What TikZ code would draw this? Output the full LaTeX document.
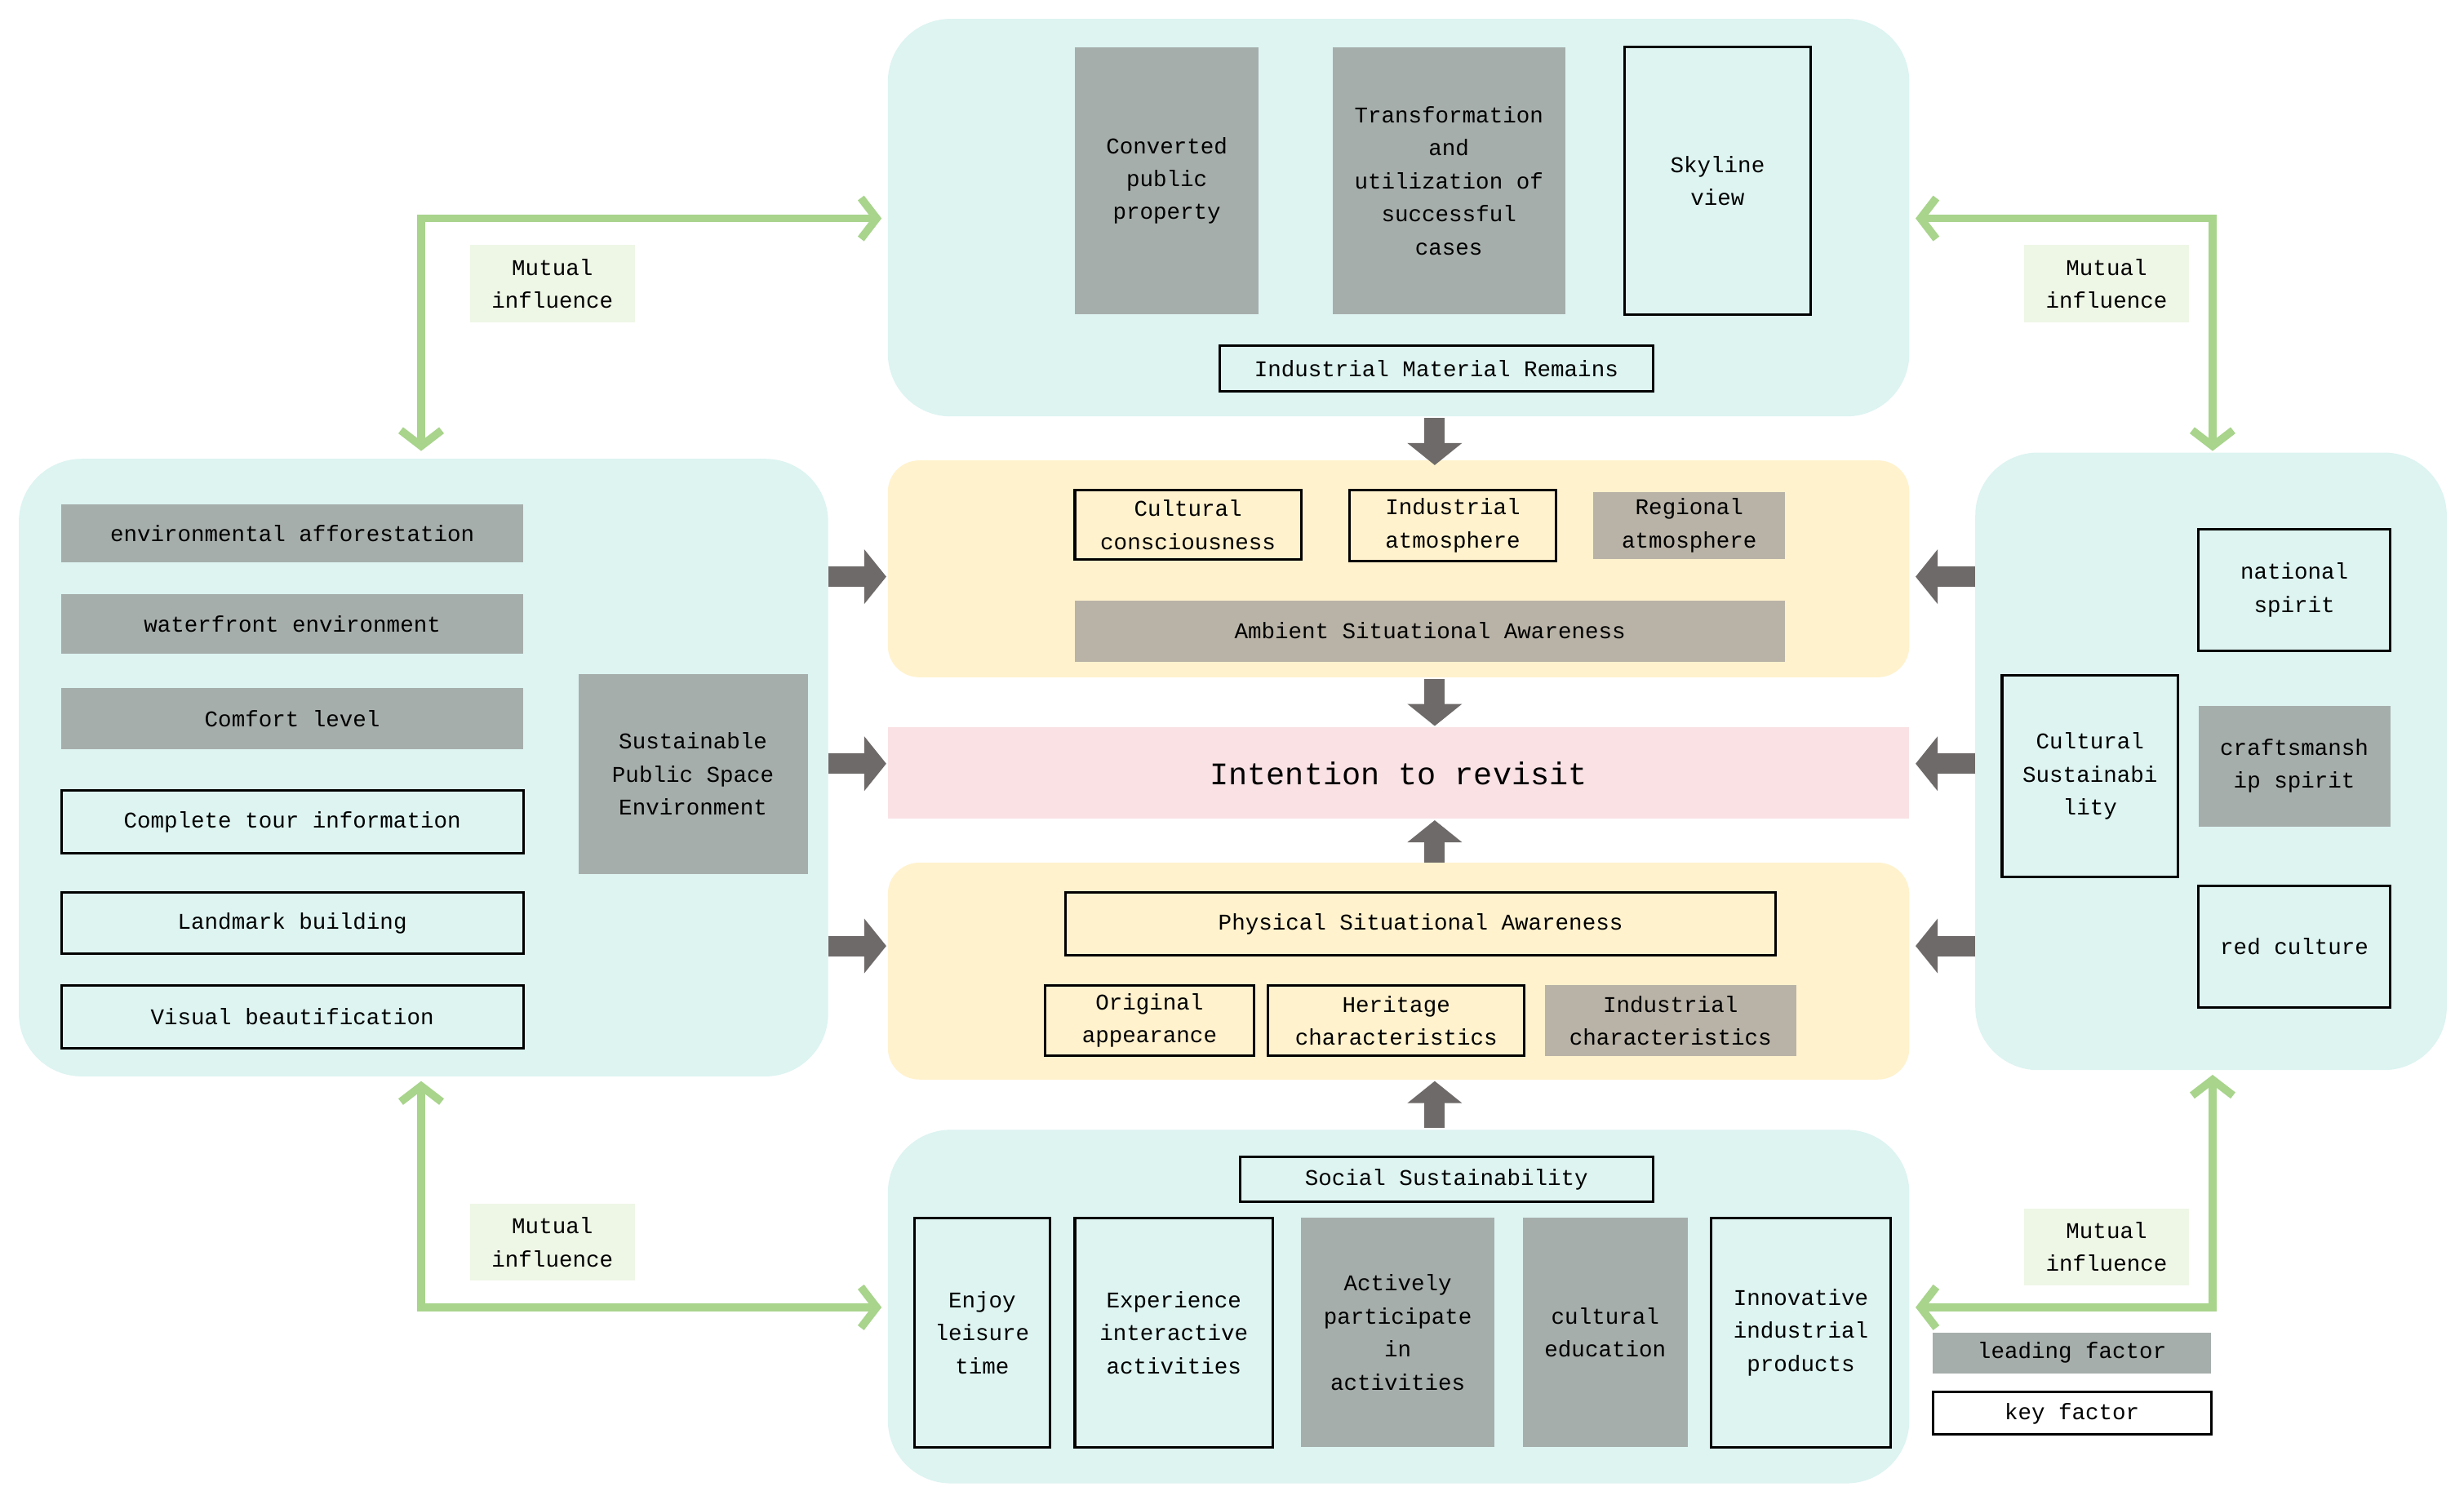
\documentclass[tikz,border=0pt]{standalone}
\usepackage{fontspec}
\setmainfont{Liberation Mono}
\usetikzlibrary{arrows.meta}
\definecolor{cyanbg}{HTML}{DDF4F1}
\definecolor{yelbg}{HTML}{FFF2CD}
\definecolor{pinkbg}{HTML}{F9E1E4}
\definecolor{grayb}{HTML}{A6AEAC}
\definecolor{tanb}{HTML}{B9B3A7}
\definecolor{greenar}{HTML}{A8D48C}
\definecolor{grayar}{HTML}{6E6A69}
\definecolor{mutbg}{HTML}{EEF6E6}
\tikzset{
 panel/.style={rounded corners=40pt},
 keyb/.style={draw=black, line width=1.6pt},
 leadb/.style={fill=grayb},
 tanbox/.style={fill=tanb},
 mutlab/.style={fill=mutbg},
 garrow/.style={draw=greenar, line width=5pt, {Straight Barb[length=10pt,width=26pt]}-{Straight Barb[length=10pt,width=26pt]}},
 blockar/.style={draw=grayar, line width=13pt, -{Triangle[length=14pt,width=34pt]}},
}
\newcommand{\bx}[7]{\node[#6, inner sep=0pt, align=center, minimum width={(#4-#2)*1pt}, minimum height={(#5-#3)*1pt}] (#1) at ({(#2+#4)/2},{(#3+#5)/2}) {#7};}
\begin{document}
\begin{tikzpicture}[x=1pt,y=-1pt, font=\fontsize{14.3}{21}\selectfont]
\useasboundingbox[fill=white] (0,0) rectangle (1568,960);
% panels
\fill[cyanbg,panel] (565,12) rectangle (1215,265);
\fill[cyanbg,panel] (12,292) rectangle (527,685);
\fill[cyanbg,panel] (1257,288) rectangle (1557,681);
\fill[cyanbg,panel] (565,719) rectangle (1215,944);
\fill[yelbg,rounded corners=20pt] (565,293) rectangle (1215,431);
\fill[yelbg,rounded corners=20pt] (565,549) rectangle (1215,687);
\bx{intent}{565}{463}{1215}{521}{fill=pinkbg}{\fontsize{20}{24}\selectfont Intention to revisit}
% top
\bx{conv}{684}{30}{801}{200}{leadb}{Converted\\public\\property}
\bx{trans}{848}{30}{996}{200}{leadb}{Transformation\\and\\utilization of\\successful\\cases}
\bx{sky}{1034}{30}{1152}{200}{keyb}{Skyline\\view}
\bx{imr}{776}{220}{1052}{249}{keyb}{Industrial Material Remains}
% left
\bx{env}{39}{321}{333}{358}{leadb}{environmental afforestation}
\bx{wat}{39}{378}{333}{416}{leadb}{waterfront environment}
\bx{com}{39}{438}{333}{477}{leadb}{Comfort level}
\bx{tour}{39}{503}{333}{543}{keyb}{Complete tour information}
\bx{land}{39}{568}{333}{607}{keyb}{Landmark building}
\bx{vis}{39}{627}{333}{667}{keyb}{Visual beautification}
\bx{spse}{368}{429}{514}{556}{leadb}{Sustainable\\Public Space\\Environment}
% yellow 1
\bx{cc}{684}{312}{828}{356}{keyb}{Cultural\\consciousness}
\bx{ia}{859}{312}{990}{357}{keyb}{Industrial\\atmosphere}
\bx{ra}{1014}{313}{1136}{356}{tanbox}{Regional\\atmosphere}
\bx{asa}{684}{382}{1136}{421}{tanbox}{Ambient Situational Awareness}
% yellow 2
\bx{psa}{678}{568}{1130}{608}{keyb}{Physical Situational Awareness}
\bx{oa}{665}{627}{798}{672}{keyb}{Original\\appearance}
\bx{hc}{807}{627}{970}{672}{keyb}{Heritage\\characteristics}
\bx{ic}{983}{627}{1143}{672}{tanbox}{Industrial\\characteristics}
% bottom
\bx{ss}{789}{736}{1052}{765}{keyb}{Social Sustainability}
\bx{enj}{582}{775}{668}{921}{keyb}{Enjoy\\leisure\\time}
\bx{exp}{684}{775}{810}{921}{keyb}{Experience\\interactive\\activities}
\bx{act}{828}{775}{951}{921}{leadb}{Actively\\participate\\in\\activities}
\bx{ced}{969}{775}{1074}{921}{leadb}{cultural\\education}
\bx{inn}{1089}{775}{1203}{921}{keyb}{Innovative\\industrial\\products}
% right
\bx{nat}{1399}{337}{1521}{414}{keyb}{national\\spirit}
\bx{csu}{1274}{430}{1386}{558}{keyb}{Cultural\\Sustainabi\\lity}
\bx{cra}{1399}{449}{1521}{526}{leadb}{craftsmansh\\ip spirit}
\bx{red}{1399}{564}{1521}{641}{keyb}{red culture}
% legend
\bx{lf}{1230}{848}{1407}{874}{leadb}{leading factor}
\bx{kf}{1230}{886}{1407}{913}{keyb}{key factor}
% mutual labels
\bx{m1}{299}{156}{404}{205}{mutlab}{Mutual\\influence}
\bx{m2}{1288}{156}{1393}{205}{mutlab}{Mutual\\influence}
\bx{m3}{299}{766}{404}{815}{mutlab}{Mutual\\influence}
\bx{m4}{1288}{769}{1393}{818}{mutlab}{Mutual\\influence}
% green arrows
\coordinate (g1a) at (268,287); \coordinate (g1b) at (561,139);
\draw[garrow] (g1a) |- (g1b);
\coordinate (g2a) at (1219,139); \coordinate (g2b) at (1408,287);
\draw[garrow] (g2a) -| (g2b);
\coordinate (g3a) at (268,688); \coordinate (g3b) at (561,832);
\draw[garrow] (g3a) |- (g3b);
\coordinate (g4a) at (1408,684); \coordinate (g4b) at (1219,832);
\draw[garrow] (g4a) |- (g4b);
% block arrows
\coordinate (b1a) at (913,266); \coordinate (b1b) at (913,296);
\draw[blockar] (b1a) -- (b1b);
\coordinate (b2a) at (913,432); \coordinate (b2b) at (913,462);
\draw[blockar] (b2a) -- (b2b);
\coordinate (b3a) at (913,549); \coordinate (b3b) at (913,522);
\draw[blockar] (b3a) -- (b3b);
\coordinate (b4a) at (913,718); \coordinate (b4b) at (913,688);
\draw[blockar] (b4a) -- (b4b);
\foreach \yy in {367,486,602}{
 \draw[blockar] (527,\yy) -- (564,\yy);
 \draw[blockar] (1257,\yy) -- (1219,\yy);
}
\end{tikzpicture}
\end{document}
